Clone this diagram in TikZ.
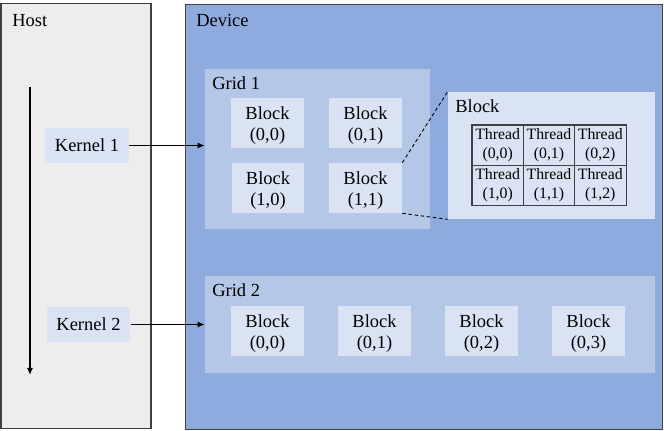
\documentclass[tikz,border=0pt]{standalone}
\usepackage{fontspec}
\setmainfont{Liberation Serif}
\usetikzlibrary{arrows.meta}

\definecolor{hostgray}{HTML}{EDEDED}
\definecolor{devblue}{HTML}{8FAADC}
\definecolor{gridblue}{HTML}{B4C7E7}
\definecolor{blockblue}{HTML}{DAE3F3}
\definecolor{edgegray}{HTML}{404040}

\tikzset{
    panel/.style={draw=edgegray, line width=0.6pt, inner sep=0pt},
    area/.style={fill=gridblue, inner sep=0pt},
    lbl/.style={anchor=base west, inner sep=0pt},
    blk/.style={fill=blockblue, inner sep=0pt, align=center,
        text height=20pt, text depth=0pt,
        minimum width=1.46cm, minimum height=1cm},
    kern/.style={fill=blockblue, inner sep=0pt,
        minimum width=1.68cm, minimum height=0.7cm},
    cell/.style={draw=edgegray, line width=0.5pt, inner sep=0pt, align=center,
        minimum width=1.027cm, minimum height=0.8cm,
        font=\fontsize{9}{10.5}\selectfont},
    flow/.style={-{Latex[length=4pt,width=3.5pt]}, line width=0.9pt},
    zoomline/.style={dash pattern=on 2pt off 1.5pt, line width=0.5pt}
}

\begin{document}
\begin{tikzpicture}[x=0.02cm, y=-0.02cm, font=\fontsize{10.5}{12}\selectfont]
        \useasboundingbox (0,0) rectangle (664,431);

        % host side
        \node[panel, fill=hostgray, minimum width=3cm, minimum height=8.52cm] (host) at (76,216) {};
        \node[lbl] (hostlbl) at (12,27) {Host};
        \coordinate (flowtop) at (30,87);
        \coordinate (flowbot) at (30,375);
        \draw[flow] (flowtop) -- (flowbot);
        \node[kern] (k1) at (87,145.5) {Kernel 1};
        \node[kern] (k2) at (88.5,324.5) {Kernel 2};

        % device side
        \node[panel, fill=devblue, minimum width=9.56cm, minimum height=8.52cm] (dev) at (424,217) {};
        \node[lbl] (devlbl) at (196,27) {Device};

        \node[area, minimum width=4.5cm, minimum height=3.2cm] (g1) at (317.5,149) {};
        \node[lbl] (g1lbl) at (212,90) {Grid 1};
        \node[blk] (b00) at (267.5,123) {Block\\(0,0)};
        \node[blk] (b01) at (365.5,123) {Block\\(0,1)};
        \node[blk] (b10) at (268,188) {Block\\(1,0)};
        \node[blk] (b11) at (365.5,188) {Block\\(1,1)};

        \node[area, minimum width=9cm, minimum height=1.94cm] (g2) at (430,324.5) {};
        \node[lbl] (g2lbl) at (212,297) {Grid 2};
        \foreach \x/\c in {267.5/0, 374.5/1, 481.5/2, 588.5/3}
        {
            \node[blk] (c\c) at (\x,331) {Block\\(0,\c)};
        }

        % zoomed block
        \node[fill=blockblue, inner sep=0pt, minimum width=4.14cm, minimum height=2.54cm] (bz) at (551.5,155.5) {};
        \node[lbl] (bzlbl) at (455,113) {Block};
        \foreach \r/\y in {0/145, 1/185}
        {
            \foreach \c/\x in {0/497.7, 1/549, 2/600.3}
            {
                \node[cell] (t\r\c) at (\x,\y) {Thread\\(\r,\c)};
            }
        }
        \draw[edgegray, line width=0.9pt] (t00.north west) rectangle (t12.south east);

        \draw[zoomline] (b11.north east) -- (bz.north west);
        \draw[zoomline] (b11.south east) -- (bz.south west);

        \draw[flow] (k1.east) -- (k1.east -| g1.west);
        \draw[flow] (k2.east) -- (k2.east -| g2.west);
    \end{tikzpicture}
\end{document}
